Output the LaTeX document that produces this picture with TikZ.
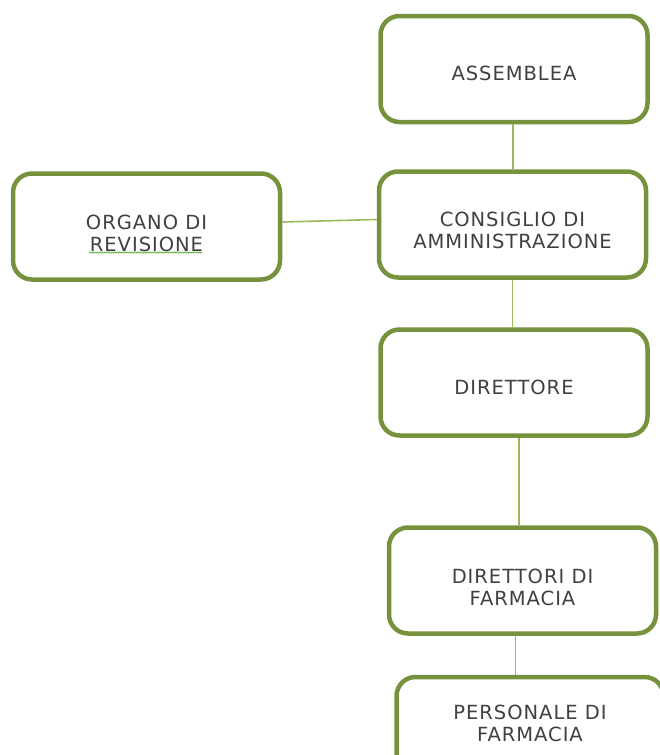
\documentclass[tikz,border=0pt]{standalone}
\usepackage{fontspec}
\setmainfont{DejaVu Sans}[LetterSpace=5]
\usetikzlibrary{decorations.pathmorphing}
\definecolor{boxline}{HTML}{76923C}
\definecolor{conn}{HTML}{9BBB59}
\definecolor{txt}{HTML}{404040}
\definecolor{squig}{HTML}{5FAF3C}
\tikzset{
  orgbox/.style={draw=boxline, line width=4.5pt, rounded corners=19pt, fill=white,
    minimum width=267pt, minimum height=106pt, inner sep=0pt},
  boxtext/.style={align=center, text=txt, inner sep=0pt,
    font=\fontsize{19.5}{22}\selectfont},
  link/.style={draw=conn, line width=1.6pt}
}
\begin{document}
\begin{tikzpicture}[x=1pt,y=-1pt]
\useasboundingbox (0,0) rectangle (660,755);
\clip (0,0) rectangle (660,755);
\node[orgbox, label={[boxtext, yshift=-4pt]center:ASSEMBLEA}] (ass) at (514,69) {};
\node[orgbox, label={[boxtext, yshift=-6pt]center:CONSIGLIO DI\\AMMINISTRAZIONE}] (cda) at (512.5,224.5) {};
\node[orgbox, label={[boxtext, yshift=-6.5pt]center:ORGANO DI\\REVISIONE}] (org) at (146.5,226.5) {};
\node[orgbox, label={[boxtext, yshift=-5pt]center:DIRETTORE}] (dir) at (514,382.5) {};
\node[orgbox, label={[boxtext, yshift=-7pt]center:DIRETTORI DI\\FARMACIA}] (dfa) at (522.5,580.5) {};
\node[orgbox, label={[boxtext, yshift=7pt]center:PERSONALE DI\\FARMACIA}] (per) at (530,730) {};
\coordinate (sq1) at (89,252.5);
\coordinate (sq2) at (202,252.5);
\draw[squig, line width=0.8pt, decorate, decoration={snake, amplitude=0.6pt, segment length=2.5pt}] (sq1) -- (sq2);
\draw[link] ([xshift=-1pt]ass.south) -- ([xshift=-1pt]ass.south |- cda.north);
\draw[link] (cda.south) -- (cda.south |- dir.north);
\draw[link] ([xshift=5pt]dir.south) -- ([xshift=5pt]dir.south |- dfa.north);
\draw[link] ([xshift=-7pt]dfa.south) -- ([xshift=-7pt]dfa.south |- per.north);
\draw[link] ([yshift=4.5pt]org.east) -- ([yshift=5pt]cda.west);
\end{tikzpicture}
\end{document}
